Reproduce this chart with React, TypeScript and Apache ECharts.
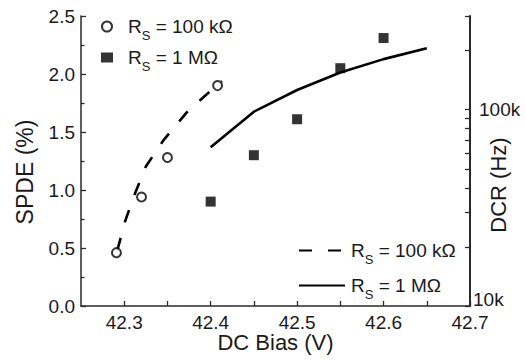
import React, { useEffect, useRef } from "react";
import * as echarts from "echarts";

// ---- data ----
const xLabelTicks = [42.3, 42.4, 42.5, 42.6, 42.7];
const xAllTicks = [42.3, 42.35, 42.4, 42.45, 42.5, 42.55, 42.6, 42.65, 42.7];
const xAxisMax = 42.7;
const dcrLabelTicks = [10000, 100000];
const dcrAllTicks = [10000, 20000, 30000, 40000, 50000, 60000, 70000, 80000, 90000, 100000, 200000, 300000];

// SPDE (%) scatter points
const spde100kX = [42.291, 42.32, 42.35, 42.408];
const spde100kY = [0.46, 0.94, 1.28, 1.9];
const spde1MX = [42.4, 42.45, 42.5, 42.55, 42.6];
const spde1MY = [0.9, 1.3, 1.61, 2.05, 2.31];

// DCR (Hz) lines
const dcr100kX = [42.292, 42.301, 42.312, 42.325, 42.346, 42.374, 42.413];
const dcr100kY = [19200, 27000, 37000, 51400, 70400, 98900, 140000];
const dcr1MX = [42.4, 42.45, 42.5, 42.55, 42.6, 42.65];
const dcr1MY = [64400, 97700, 125900, 154700, 180900, 205700];

const FONT = "'Liberation Sans', Arial, Helvetica, sans-serif";
const TXT = "#1a1a1a";
const AX = "#2a2a2a";

const zip = (xs: number[], ys: number[]) => xs.map((x, i) => [x, ys[i]]);

const legendName: Record<string, string> = {
  c100: "R{s|S} = 100 kΩ",
  c1M: "R{s|S} = 1 MΩ",
  l100: "R{s|S} = 100 kΩ",
  l1M: "R{s|S} = 1 MΩ",
};

export default function App() {
  const ref = useRef<HTMLDivElement>(null);
  useEffect(() => {
    if (!ref.current) return;
    const chart = echarts.init(ref.current, null, { renderer: "svg" });
    const richText = (padLeft: number) => ({
      fontFamily: FONT,
      fontSize: 19,
      color: TXT,
      padding: [0, 0, 0, padLeft],
      rich: {
        s: { fontFamily: FONT, fontSize: 13, color: TXT, padding: [18, 0, 0, 0] },
      },
    });
    chart.setOption({
      animation: false,
      grid: { left: 81, right: 56, top: 16, bottom: 54, outerBoundsMode: "none" },
      legend: [
        {
          data: ["c100", "c1M"],
          orient: "vertical",
          left: 96,
          top: 12,
          itemWidth: 12,
          itemHeight: 10,
          itemGap: 6,
          formatter: (n: string) => legendName[n],
          textStyle: richText(10),
          selectedMode: false,
        },
        {
          data: ["l100", "l1M"],
          orient: "vertical",
          left: 293,
          top: 236,
          itemWidth: 46,
          itemHeight: 10,
          itemGap: 10,
          formatter: (n: string) => legendName[n],
          textStyle: richText(1),
          itemStyle: { opacity: 0 },
          selectedMode: false,
        },
      ],
      xAxis: {
        type: "value",
        min: 42.25,
        max: xAxisMax,
        interval: 0.05,
        name: "DC Bias (V)",
        nameLocation: "middle",
        nameGap: 25,
        nameMoveOverlap: false,
        nameTextStyle: { fontFamily: FONT, fontSize: 22, color: TXT },
        axisLine: { show: true, onZero: false, lineStyle: { color: AX, width: 1.5 } },
        axisTick: { show: true, inside: true, length: 5, customValues: xAllTicks, lineStyle: { color: AX, width: 1.3 } },
        axisLabel: {
          customValues: xLabelTicks,
          margin: 7,
          fontFamily: FONT,
          fontSize: 19,
          color: TXT,
          formatter: (v: number) => v.toFixed(1),
        },
        splitLine: { show: false },
      },
      yAxis: [
        {
          type: "value",
          min: 0,
          max: 2.5,
          interval: 0.5,
          position: "left",
          name: "SPDE (%)",
          nameLocation: "middle",
          nameRotate: 90,
          nameGap: 45,
          nameMoveOverlap: false,
          nameTextStyle: { fontFamily: FONT, fontSize: 23, color: TXT, padding: [0, 22, 0, 0] },
          axisLine: { show: true, onZero: false, lineStyle: { color: AX, width: 1.5 } },
          axisTick: { show: true, inside: true, length: 5, lineStyle: { color: AX, width: 1.3 } },
          minorTick: { show: true, splitNumber: 2, length: 3.5, lineStyle: { color: AX, width: 1.3 } },
          axisLabel: {
            margin: 6,
            fontFamily: FONT,
            fontSize: 19,
            color: TXT,
            formatter: (v: number) => v.toFixed(1),
          },
          splitLine: { show: false },
        },
        {
          type: "log",
          logBase: 10,
          min: 10000,
          max: 300000,
          position: "right",
          name: "DCR (Hz)",
          nameLocation: "middle",
          nameRotate: 90,
          nameGap: 17,
          nameMoveOverlap: false,
          nameTextStyle: { fontFamily: FONT, fontSize: 22, color: TXT, padding: [0, 48, 0, 0] },
          axisLine: { show: true, onZero: false, lineStyle: { color: AX, width: 2 } },
          axisTick: { show: true, inside: true, length: 5, customValues: dcrAllTicks, lineStyle: { color: AX, width: 1.3 } },
          axisLabel: {
            customValues: dcrLabelTicks,
            margin: 3,
            fontFamily: FONT,
            fontSize: 19,
            color: TXT,
            formatter: (v: number) => (v < 50000 ? "{lo|10k}" : "{hi|100k}"),
            rich: {
              lo: { fontFamily: FONT, fontSize: 19, color: TXT, padding: [0, 0, 14, 0] },
              hi: { fontFamily: FONT, fontSize: 19, color: TXT, padding: [0, 0, 0, 6] },
            },
          },
          splitLine: { show: false },
        },
      ],
      series: [
        {
          name: "l100",
          type: "line",
          yAxisIndex: 1,
          data: zip(dcr100kX, dcr100kY),
          symbol: "none",
          clip: false,
          lineStyle: { color: "#000", width: 2.6, type: [13, 16] },
          itemStyle: { color: "#000" },
          z: 2,
        },
        {
          name: "l1M",
          type: "line",
          yAxisIndex: 1,
          data: zip(dcr1MX, dcr1MY),
          symbol: "none",
          clip: false,
          lineStyle: { color: "#000", width: 2.6, type: "solid" },
          itemStyle: { color: "#000" },
          markLine: {
            silent: true,
            symbol: ["none", "none"],
            label: { show: false },
            lineStyle: { color: AX, width: 1.5, type: "solid" },
            data: [{ xAxis: xAxisMax }],
          },
          z: 2,
        },
        {
          name: "c100",
          type: "scatter",
          yAxisIndex: 0,
          data: zip(spde100kX, spde100kY),
          symbol: "circle",
          symbolSize: 9,
          clip: false,
          itemStyle: { color: "#fff", borderColor: "#000", borderWidth: 2 },
          z: 3,
        },
        {
          name: "c1M",
          type: "scatter",
          yAxisIndex: 0,
          data: zip(spde1MX, spde1MY),
          symbol: "rect",
          symbolSize: 10,
          clip: false,
          itemStyle: { color: "#000" },
          z: 3,
        },
      ],
    });
    return () => chart.dispose();
  }, []);
  return (
    <div
      ref={ref}
      style={{ position: "fixed", left: 0, top: 0, width: 526, height: 360, background: "#fff" }}
    />
  );
}
